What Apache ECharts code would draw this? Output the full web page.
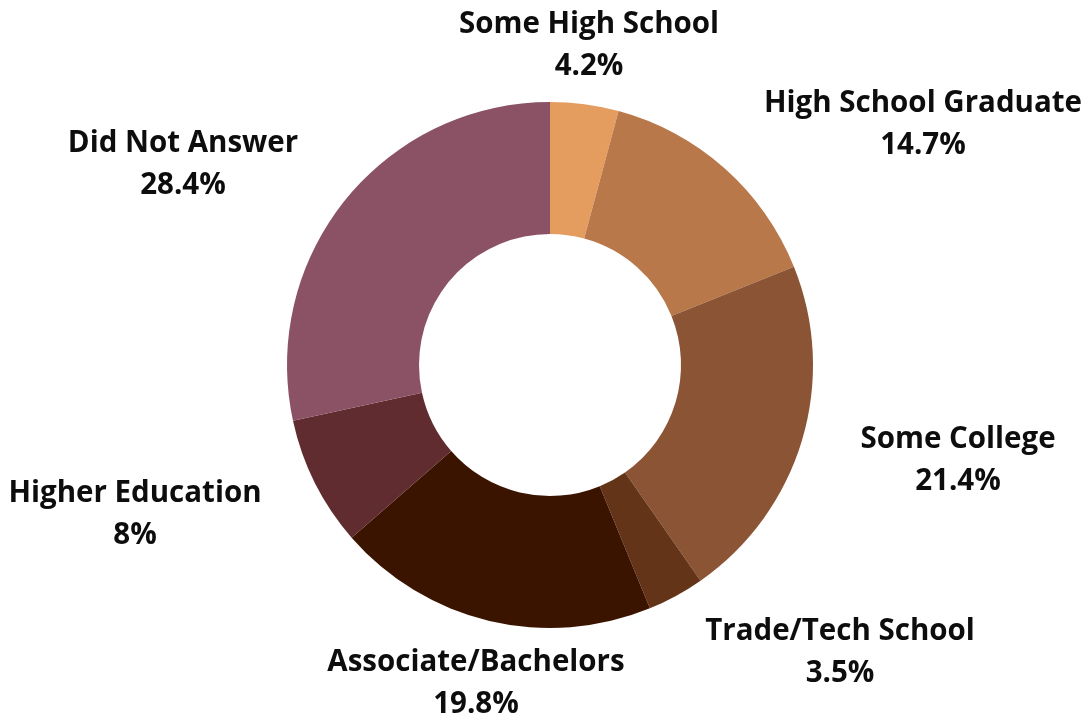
<!DOCTYPE html>
<html>
<head>
<meta charset="utf-8">
<script src="https://cdn.jsdelivr.net/npm/echarts@6/dist/echarts.min.js"></script>
<style>
  html, body { margin: 0; padding: 0; background: #ffffff; }
  #chart { width: 1084px; height: 717px; }
</style>
</head>
<body>
<div id="chart"></div>
<script>
// Education level breakdown (percent of respondents)
const categories = [
  'Some High School',
  'High School Graduate',
  'Some College',
  'Trade/Tech School',
  'Associate/Bachelors',
  'Higher Education',
  'Did Not Answer'
];
const shares = [4.2, 14.7, 21.4, 3.5, 19.8, 8, 28.4];

const sliceColors = ['#E59C5F', '#B8784A', '#8B5434', '#643419', '#3B1400', '#612C2F', '#8A5264'];

// Centre points for each label block, in page pixels
const labelAnchors = [
  [589, 46], [923, 125], [958, 461], [840, 653], [476, 684], [135, 515], [183, 165]
];

const chart = echarts.init(document.getElementById('chart'), null, { renderer: 'canvas' });

chart.setOption({
  backgroundColor: '#ffffff',
  animation: false,
  series: [{
    type: 'pie',
    center: [550, 365],
    radius: [131, 263],
    startAngle: 90,
    clockwise: true,
    avoidLabelOverlap: false,
    itemStyle: { borderWidth: 0 },
    label: {
      show: true,
      position: 'outside',
      formatter: '{b}\n{c}%',
      fontFamily: '"Open Sans", "Noto Sans", sans-serif',
      fontWeight: 'bold',
      fontSize: 29.5,
      lineHeight: 42,
      color: '#0d0d0d',
      align: 'center'
    },
    labelLine: { show: false },
    labelLayout: function (params) {
      const p = labelAnchors[params.dataIndex];
      return { x: p[0], y: p[1], align: 'center', verticalAlign: 'middle' };
    },
    data: categories.map((name, i) => ({
      name: name,
      value: shares[i],
      itemStyle: { color: sliceColors[i] }
    }))
  }]
});
</script>
</body>
</html>
